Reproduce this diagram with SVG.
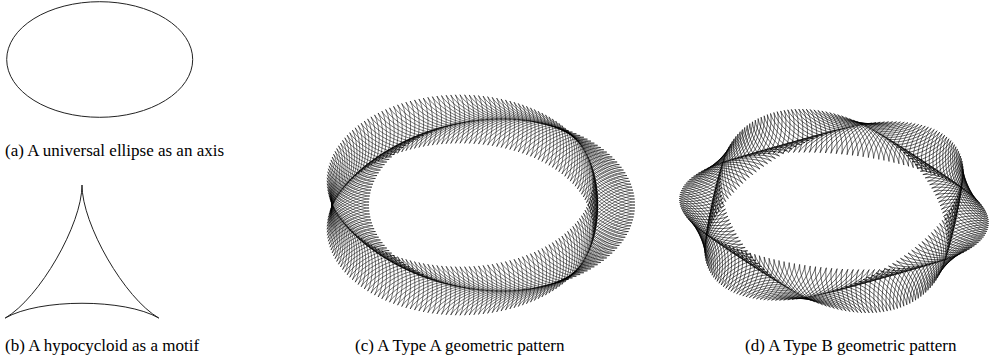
<svg xmlns="http://www.w3.org/2000/svg" width="994" height="363" viewBox="0 0 994 363">
<style>
.ln{fill:none;stroke:#222;stroke-width:1}
.mo{fill:none;stroke:#000;stroke-width:0.55}
.cap{font-family:"Liberation Serif","DejaVu Serif",serif;font-size:17px;fill:#000}
</style>
<defs>
<path id="dA" class="mo" d="M28,0 C15.556,0 -7.778,13.472 -14,24.249 C-7.778,13.472 -7.778,-13.472 -14,-24.249 C-7.778,-13.472 15.556,0 28,0Z"/>
<g id="mA" transform="scale(0.0075188,0.0116279)"><use href="#dA"/></g>
<path id="mB" class="mo" d="M25,0 C13.889,0 -6.944,12.028 -12.5,21.651 C-6.944,12.028 -6.944,-12.028 -12.5,-21.651 C-6.944,-12.028 13.889,0 25,0Z"/>
</defs>
<g id="axis-ellipse"><ellipse class="ln" cx="99.7" cy="59.5" rx="93" ry="57.8"/></g>
<g id="motif-hypocycloid"><path class="ln" d="M82,185 C82,224.42 39.32,298.34 5.18,318.05 C39.32,298.34 124.68,298.34 158.82,318.05 C124.68,298.34 82,224.42 82,185Z"/></g>
<g id="pattern-a" transform="translate(474,205) scale(133,86)">
<use href="#mA" transform="rotate(0)translate(1)rotate(0)"/>
<use href="#mA" transform="rotate(2)translate(1)rotate(-2)"/>
<use href="#mA" transform="rotate(4)translate(1)rotate(-4)"/>
<use href="#mA" transform="rotate(6)translate(1)rotate(-6)"/>
<use href="#mA" transform="rotate(8)translate(1)rotate(-8)"/>
<use href="#mA" transform="rotate(10)translate(1)rotate(-10)"/>
<use href="#mA" transform="rotate(12)translate(1)rotate(-12)"/>
<use href="#mA" transform="rotate(14)translate(1)rotate(-14)"/>
<use href="#mA" transform="rotate(16)translate(1)rotate(-16)"/>
<use href="#mA" transform="rotate(18)translate(1)rotate(-18)"/>
<use href="#mA" transform="rotate(20)translate(1)rotate(-20)"/>
<use href="#mA" transform="rotate(22)translate(1)rotate(-22)"/>
<use href="#mA" transform="rotate(24)translate(1)rotate(-24)"/>
<use href="#mA" transform="rotate(26)translate(1)rotate(-26)"/>
<use href="#mA" transform="rotate(28)translate(1)rotate(-28)"/>
<use href="#mA" transform="rotate(30)translate(1)rotate(-30)"/>
<use href="#mA" transform="rotate(32)translate(1)rotate(-32)"/>
<use href="#mA" transform="rotate(34)translate(1)rotate(-34)"/>
<use href="#mA" transform="rotate(36)translate(1)rotate(-36)"/>
<use href="#mA" transform="rotate(38)translate(1)rotate(-38)"/>
<use href="#mA" transform="rotate(40)translate(1)rotate(-40)"/>
<use href="#mA" transform="rotate(42)translate(1)rotate(-42)"/>
<use href="#mA" transform="rotate(44)translate(1)rotate(-44)"/>
<use href="#mA" transform="rotate(46)translate(1)rotate(-46)"/>
<use href="#mA" transform="rotate(48)translate(1)rotate(-48)"/>
<use href="#mA" transform="rotate(50)translate(1)rotate(-50)"/>
<use href="#mA" transform="rotate(52)translate(1)rotate(-52)"/>
<use href="#mA" transform="rotate(54)translate(1)rotate(-54)"/>
<use href="#mA" transform="rotate(56)translate(1)rotate(-56)"/>
<use href="#mA" transform="rotate(58)translate(1)rotate(-58)"/>
<use href="#mA" transform="rotate(60)translate(1)rotate(-60)"/>
<use href="#mA" transform="rotate(62)translate(1)rotate(-62)"/>
<use href="#mA" transform="rotate(64)translate(1)rotate(-64)"/>
<use href="#mA" transform="rotate(66)translate(1)rotate(-66)"/>
<use href="#mA" transform="rotate(68)translate(1)rotate(-68)"/>
<use href="#mA" transform="rotate(70)translate(1)rotate(-70)"/>
<use href="#mA" transform="rotate(72)translate(1)rotate(-72)"/>
<use href="#mA" transform="rotate(74)translate(1)rotate(-74)"/>
<use href="#mA" transform="rotate(76)translate(1)rotate(-76)"/>
<use href="#mA" transform="rotate(78)translate(1)rotate(-78)"/>
<use href="#mA" transform="rotate(80)translate(1)rotate(-80)"/>
<use href="#mA" transform="rotate(82)translate(1)rotate(-82)"/>
<use href="#mA" transform="rotate(84)translate(1)rotate(-84)"/>
<use href="#mA" transform="rotate(86)translate(1)rotate(-86)"/>
<use href="#mA" transform="rotate(88)translate(1)rotate(-88)"/>
<use href="#mA" transform="rotate(90)translate(1)rotate(-90)"/>
<use href="#mA" transform="rotate(92)translate(1)rotate(-92)"/>
<use href="#mA" transform="rotate(94)translate(1)rotate(-94)"/>
<use href="#mA" transform="rotate(96)translate(1)rotate(-96)"/>
<use href="#mA" transform="rotate(98)translate(1)rotate(-98)"/>
<use href="#mA" transform="rotate(100)translate(1)rotate(-100)"/>
<use href="#mA" transform="rotate(102)translate(1)rotate(-102)"/>
<use href="#mA" transform="rotate(104)translate(1)rotate(-104)"/>
<use href="#mA" transform="rotate(106)translate(1)rotate(-106)"/>
<use href="#mA" transform="rotate(108)translate(1)rotate(-108)"/>
<use href="#mA" transform="rotate(110)translate(1)rotate(-110)"/>
<use href="#mA" transform="rotate(112)translate(1)rotate(-112)"/>
<use href="#mA" transform="rotate(114)translate(1)rotate(-114)"/>
<use href="#mA" transform="rotate(116)translate(1)rotate(-116)"/>
<use href="#mA" transform="rotate(118)translate(1)rotate(-118)"/>
<use href="#mA" transform="rotate(120)translate(1)rotate(-120)"/>
<use href="#mA" transform="rotate(122)translate(1)rotate(-122)"/>
<use href="#mA" transform="rotate(124)translate(1)rotate(-124)"/>
<use href="#mA" transform="rotate(126)translate(1)rotate(-126)"/>
<use href="#mA" transform="rotate(128)translate(1)rotate(-128)"/>
<use href="#mA" transform="rotate(130)translate(1)rotate(-130)"/>
<use href="#mA" transform="rotate(132)translate(1)rotate(-132)"/>
<use href="#mA" transform="rotate(134)translate(1)rotate(-134)"/>
<use href="#mA" transform="rotate(136)translate(1)rotate(-136)"/>
<use href="#mA" transform="rotate(138)translate(1)rotate(-138)"/>
<use href="#mA" transform="rotate(140)translate(1)rotate(-140)"/>
<use href="#mA" transform="rotate(142)translate(1)rotate(-142)"/>
<use href="#mA" transform="rotate(144)translate(1)rotate(-144)"/>
<use href="#mA" transform="rotate(146)translate(1)rotate(-146)"/>
<use href="#mA" transform="rotate(148)translate(1)rotate(-148)"/>
<use href="#mA" transform="rotate(150)translate(1)rotate(-150)"/>
<use href="#mA" transform="rotate(152)translate(1)rotate(-152)"/>
<use href="#mA" transform="rotate(154)translate(1)rotate(-154)"/>
<use href="#mA" transform="rotate(156)translate(1)rotate(-156)"/>
<use href="#mA" transform="rotate(158)translate(1)rotate(-158)"/>
<use href="#mA" transform="rotate(160)translate(1)rotate(-160)"/>
<use href="#mA" transform="rotate(162)translate(1)rotate(-162)"/>
<use href="#mA" transform="rotate(164)translate(1)rotate(-164)"/>
<use href="#mA" transform="rotate(166)translate(1)rotate(-166)"/>
<use href="#mA" transform="rotate(168)translate(1)rotate(-168)"/>
<use href="#mA" transform="rotate(170)translate(1)rotate(-170)"/>
<use href="#mA" transform="rotate(172)translate(1)rotate(-172)"/>
<use href="#mA" transform="rotate(174)translate(1)rotate(-174)"/>
<use href="#mA" transform="rotate(176)translate(1)rotate(-176)"/>
<use href="#mA" transform="rotate(178)translate(1)rotate(-178)"/>
<use href="#mA" transform="rotate(180)translate(1)rotate(-180)"/>
<use href="#mA" transform="rotate(182)translate(1)rotate(-182)"/>
<use href="#mA" transform="rotate(184)translate(1)rotate(-184)"/>
<use href="#mA" transform="rotate(186)translate(1)rotate(-186)"/>
<use href="#mA" transform="rotate(188)translate(1)rotate(-188)"/>
<use href="#mA" transform="rotate(190)translate(1)rotate(-190)"/>
<use href="#mA" transform="rotate(192)translate(1)rotate(-192)"/>
<use href="#mA" transform="rotate(194)translate(1)rotate(-194)"/>
<use href="#mA" transform="rotate(196)translate(1)rotate(-196)"/>
<use href="#mA" transform="rotate(198)translate(1)rotate(-198)"/>
<use href="#mA" transform="rotate(200)translate(1)rotate(-200)"/>
<use href="#mA" transform="rotate(202)translate(1)rotate(-202)"/>
<use href="#mA" transform="rotate(204)translate(1)rotate(-204)"/>
<use href="#mA" transform="rotate(206)translate(1)rotate(-206)"/>
<use href="#mA" transform="rotate(208)translate(1)rotate(-208)"/>
<use href="#mA" transform="rotate(210)translate(1)rotate(-210)"/>
<use href="#mA" transform="rotate(212)translate(1)rotate(-212)"/>
<use href="#mA" transform="rotate(214)translate(1)rotate(-214)"/>
<use href="#mA" transform="rotate(216)translate(1)rotate(-216)"/>
<use href="#mA" transform="rotate(218)translate(1)rotate(-218)"/>
<use href="#mA" transform="rotate(220)translate(1)rotate(-220)"/>
<use href="#mA" transform="rotate(222)translate(1)rotate(-222)"/>
<use href="#mA" transform="rotate(224)translate(1)rotate(-224)"/>
<use href="#mA" transform="rotate(226)translate(1)rotate(-226)"/>
<use href="#mA" transform="rotate(228)translate(1)rotate(-228)"/>
<use href="#mA" transform="rotate(230)translate(1)rotate(-230)"/>
<use href="#mA" transform="rotate(232)translate(1)rotate(-232)"/>
<use href="#mA" transform="rotate(234)translate(1)rotate(-234)"/>
<use href="#mA" transform="rotate(236)translate(1)rotate(-236)"/>
<use href="#mA" transform="rotate(238)translate(1)rotate(-238)"/>
<use href="#mA" transform="rotate(240)translate(1)rotate(-240)"/>
<use href="#mA" transform="rotate(242)translate(1)rotate(-242)"/>
<use href="#mA" transform="rotate(244)translate(1)rotate(-244)"/>
<use href="#mA" transform="rotate(246)translate(1)rotate(-246)"/>
<use href="#mA" transform="rotate(248)translate(1)rotate(-248)"/>
<use href="#mA" transform="rotate(250)translate(1)rotate(-250)"/>
<use href="#mA" transform="rotate(252)translate(1)rotate(-252)"/>
<use href="#mA" transform="rotate(254)translate(1)rotate(-254)"/>
<use href="#mA" transform="rotate(256)translate(1)rotate(-256)"/>
<use href="#mA" transform="rotate(258)translate(1)rotate(-258)"/>
<use href="#mA" transform="rotate(260)translate(1)rotate(-260)"/>
<use href="#mA" transform="rotate(262)translate(1)rotate(-262)"/>
<use href="#mA" transform="rotate(264)translate(1)rotate(-264)"/>
<use href="#mA" transform="rotate(266)translate(1)rotate(-266)"/>
<use href="#mA" transform="rotate(268)translate(1)rotate(-268)"/>
<use href="#mA" transform="rotate(270)translate(1)rotate(-270)"/>
<use href="#mA" transform="rotate(272)translate(1)rotate(-272)"/>
<use href="#mA" transform="rotate(274)translate(1)rotate(-274)"/>
<use href="#mA" transform="rotate(276)translate(1)rotate(-276)"/>
<use href="#mA" transform="rotate(278)translate(1)rotate(-278)"/>
<use href="#mA" transform="rotate(280)translate(1)rotate(-280)"/>
<use href="#mA" transform="rotate(282)translate(1)rotate(-282)"/>
<use href="#mA" transform="rotate(284)translate(1)rotate(-284)"/>
<use href="#mA" transform="rotate(286)translate(1)rotate(-286)"/>
<use href="#mA" transform="rotate(288)translate(1)rotate(-288)"/>
<use href="#mA" transform="rotate(290)translate(1)rotate(-290)"/>
<use href="#mA" transform="rotate(292)translate(1)rotate(-292)"/>
<use href="#mA" transform="rotate(294)translate(1)rotate(-294)"/>
<use href="#mA" transform="rotate(296)translate(1)rotate(-296)"/>
<use href="#mA" transform="rotate(298)translate(1)rotate(-298)"/>
<use href="#mA" transform="rotate(300)translate(1)rotate(-300)"/>
<use href="#mA" transform="rotate(302)translate(1)rotate(-302)"/>
<use href="#mA" transform="rotate(304)translate(1)rotate(-304)"/>
<use href="#mA" transform="rotate(306)translate(1)rotate(-306)"/>
<use href="#mA" transform="rotate(308)translate(1)rotate(-308)"/>
<use href="#mA" transform="rotate(310)translate(1)rotate(-310)"/>
<use href="#mA" transform="rotate(312)translate(1)rotate(-312)"/>
<use href="#mA" transform="rotate(314)translate(1)rotate(-314)"/>
<use href="#mA" transform="rotate(316)translate(1)rotate(-316)"/>
<use href="#mA" transform="rotate(318)translate(1)rotate(-318)"/>
<use href="#mA" transform="rotate(320)translate(1)rotate(-320)"/>
<use href="#mA" transform="rotate(322)translate(1)rotate(-322)"/>
<use href="#mA" transform="rotate(324)translate(1)rotate(-324)"/>
<use href="#mA" transform="rotate(326)translate(1)rotate(-326)"/>
<use href="#mA" transform="rotate(328)translate(1)rotate(-328)"/>
<use href="#mA" transform="rotate(330)translate(1)rotate(-330)"/>
<use href="#mA" transform="rotate(332)translate(1)rotate(-332)"/>
<use href="#mA" transform="rotate(334)translate(1)rotate(-334)"/>
<use href="#mA" transform="rotate(336)translate(1)rotate(-336)"/>
<use href="#mA" transform="rotate(338)translate(1)rotate(-338)"/>
<use href="#mA" transform="rotate(340)translate(1)rotate(-340)"/>
<use href="#mA" transform="rotate(342)translate(1)rotate(-342)"/>
<use href="#mA" transform="rotate(344)translate(1)rotate(-344)"/>
<use href="#mA" transform="rotate(346)translate(1)rotate(-346)"/>
<use href="#mA" transform="rotate(348)translate(1)rotate(-348)"/>
<use href="#mA" transform="rotate(350)translate(1)rotate(-350)"/>
<use href="#mA" transform="rotate(352)translate(1)rotate(-352)"/>
<use href="#mA" transform="rotate(354)translate(1)rotate(-354)"/>
<use href="#mA" transform="rotate(356)translate(1)rotate(-356)"/>
<use href="#mA" transform="rotate(358)translate(1)rotate(-358)"/>
</g>
<g id="pattern-b" transform="translate(834,211) scale(131,81.5)">
<use href="#mB" transform="rotate(0)translate(1)rotate(0)scale(.0076336,.0122699)rotate(20)"/>
<use href="#mB" transform="rotate(2)translate(1)rotate(-2)scale(.0076336,.0122699)rotate(18)"/>
<use href="#mB" transform="rotate(4)translate(1)rotate(-4)scale(.0076336,.0122699)rotate(16)"/>
<use href="#mB" transform="rotate(6)translate(1)rotate(-6)scale(.0076336,.0122699)rotate(14)"/>
<use href="#mB" transform="rotate(8)translate(1)rotate(-8)scale(.0076336,.0122699)rotate(12)"/>
<use href="#mB" transform="rotate(10)translate(1)rotate(-10)scale(.0076336,.0122699)rotate(10)"/>
<use href="#mB" transform="rotate(12)translate(1)rotate(-12)scale(.0076336,.0122699)rotate(8)"/>
<use href="#mB" transform="rotate(14)translate(1)rotate(-14)scale(.0076336,.0122699)rotate(6)"/>
<use href="#mB" transform="rotate(16)translate(1)rotate(-16)scale(.0076336,.0122699)rotate(4)"/>
<use href="#mB" transform="rotate(18)translate(1)rotate(-18)scale(.0076336,.0122699)rotate(2)"/>
<use href="#mB" transform="rotate(20)translate(1)rotate(-20)scale(.0076336,.0122699)rotate(0)"/>
<use href="#mB" transform="rotate(22)translate(1)rotate(-22)scale(.0076336,.0122699)rotate(-2)"/>
<use href="#mB" transform="rotate(24)translate(1)rotate(-24)scale(.0076336,.0122699)rotate(-4)"/>
<use href="#mB" transform="rotate(26)translate(1)rotate(-26)scale(.0076336,.0122699)rotate(-6)"/>
<use href="#mB" transform="rotate(28)translate(1)rotate(-28)scale(.0076336,.0122699)rotate(-8)"/>
<use href="#mB" transform="rotate(30)translate(1)rotate(-30)scale(.0076336,.0122699)rotate(-10)"/>
<use href="#mB" transform="rotate(32)translate(1)rotate(-32)scale(.0076336,.0122699)rotate(-12)"/>
<use href="#mB" transform="rotate(34)translate(1)rotate(-34)scale(.0076336,.0122699)rotate(-14)"/>
<use href="#mB" transform="rotate(36)translate(1)rotate(-36)scale(.0076336,.0122699)rotate(-16)"/>
<use href="#mB" transform="rotate(38)translate(1)rotate(-38)scale(.0076336,.0122699)rotate(-18)"/>
<use href="#mB" transform="rotate(40)translate(1)rotate(-40)scale(.0076336,.0122699)rotate(-20)"/>
<use href="#mB" transform="rotate(42)translate(1)rotate(-42)scale(.0076336,.0122699)rotate(-22)"/>
<use href="#mB" transform="rotate(44)translate(1)rotate(-44)scale(.0076336,.0122699)rotate(-24)"/>
<use href="#mB" transform="rotate(46)translate(1)rotate(-46)scale(.0076336,.0122699)rotate(-26)"/>
<use href="#mB" transform="rotate(48)translate(1)rotate(-48)scale(.0076336,.0122699)rotate(-28)"/>
<use href="#mB" transform="rotate(50)translate(1)rotate(-50)scale(.0076336,.0122699)rotate(-30)"/>
<use href="#mB" transform="rotate(52)translate(1)rotate(-52)scale(.0076336,.0122699)rotate(-32)"/>
<use href="#mB" transform="rotate(54)translate(1)rotate(-54)scale(.0076336,.0122699)rotate(-34)"/>
<use href="#mB" transform="rotate(56)translate(1)rotate(-56)scale(.0076336,.0122699)rotate(-36)"/>
<use href="#mB" transform="rotate(58)translate(1)rotate(-58)scale(.0076336,.0122699)rotate(-38)"/>
<use href="#mB" transform="rotate(60)translate(1)rotate(-60)scale(.0076336,.0122699)rotate(-40)"/>
<use href="#mB" transform="rotate(62)translate(1)rotate(-62)scale(.0076336,.0122699)rotate(-42)"/>
<use href="#mB" transform="rotate(64)translate(1)rotate(-64)scale(.0076336,.0122699)rotate(-44)"/>
<use href="#mB" transform="rotate(66)translate(1)rotate(-66)scale(.0076336,.0122699)rotate(-46)"/>
<use href="#mB" transform="rotate(68)translate(1)rotate(-68)scale(.0076336,.0122699)rotate(-48)"/>
<use href="#mB" transform="rotate(70)translate(1)rotate(-70)scale(.0076336,.0122699)rotate(-50)"/>
<use href="#mB" transform="rotate(72)translate(1)rotate(-72)scale(.0076336,.0122699)rotate(-52)"/>
<use href="#mB" transform="rotate(74)translate(1)rotate(-74)scale(.0076336,.0122699)rotate(-54)"/>
<use href="#mB" transform="rotate(76)translate(1)rotate(-76)scale(.0076336,.0122699)rotate(-56)"/>
<use href="#mB" transform="rotate(78)translate(1)rotate(-78)scale(.0076336,.0122699)rotate(-58)"/>
<use href="#mB" transform="rotate(80)translate(1)rotate(-80)scale(.0076336,.0122699)rotate(-60)"/>
<use href="#mB" transform="rotate(82)translate(1)rotate(-82)scale(.0076336,.0122699)rotate(-62)"/>
<use href="#mB" transform="rotate(84)translate(1)rotate(-84)scale(.0076336,.0122699)rotate(-64)"/>
<use href="#mB" transform="rotate(86)translate(1)rotate(-86)scale(.0076336,.0122699)rotate(-66)"/>
<use href="#mB" transform="rotate(88)translate(1)rotate(-88)scale(.0076336,.0122699)rotate(-68)"/>
<use href="#mB" transform="rotate(90)translate(1)rotate(-90)scale(.0076336,.0122699)rotate(-70)"/>
<use href="#mB" transform="rotate(92)translate(1)rotate(-92)scale(.0076336,.0122699)rotate(-72)"/>
<use href="#mB" transform="rotate(94)translate(1)rotate(-94)scale(.0076336,.0122699)rotate(-74)"/>
<use href="#mB" transform="rotate(96)translate(1)rotate(-96)scale(.0076336,.0122699)rotate(-76)"/>
<use href="#mB" transform="rotate(98)translate(1)rotate(-98)scale(.0076336,.0122699)rotate(-78)"/>
<use href="#mB" transform="rotate(100)translate(1)rotate(-100)scale(.0076336,.0122699)rotate(-80)"/>
<use href="#mB" transform="rotate(102)translate(1)rotate(-102)scale(.0076336,.0122699)rotate(-82)"/>
<use href="#mB" transform="rotate(104)translate(1)rotate(-104)scale(.0076336,.0122699)rotate(-84)"/>
<use href="#mB" transform="rotate(106)translate(1)rotate(-106)scale(.0076336,.0122699)rotate(-86)"/>
<use href="#mB" transform="rotate(108)translate(1)rotate(-108)scale(.0076336,.0122699)rotate(-88)"/>
<use href="#mB" transform="rotate(110)translate(1)rotate(-110)scale(.0076336,.0122699)rotate(-90)"/>
<use href="#mB" transform="rotate(112)translate(1)rotate(-112)scale(.0076336,.0122699)rotate(-92)"/>
<use href="#mB" transform="rotate(114)translate(1)rotate(-114)scale(.0076336,.0122699)rotate(-94)"/>
<use href="#mB" transform="rotate(116)translate(1)rotate(-116)scale(.0076336,.0122699)rotate(-96)"/>
<use href="#mB" transform="rotate(118)translate(1)rotate(-118)scale(.0076336,.0122699)rotate(-98)"/>
<use href="#mB" transform="rotate(120)translate(1)rotate(-120)scale(.0076336,.0122699)rotate(-100)"/>
<use href="#mB" transform="rotate(122)translate(1)rotate(-122)scale(.0076336,.0122699)rotate(-102)"/>
<use href="#mB" transform="rotate(124)translate(1)rotate(-124)scale(.0076336,.0122699)rotate(-104)"/>
<use href="#mB" transform="rotate(126)translate(1)rotate(-126)scale(.0076336,.0122699)rotate(-106)"/>
<use href="#mB" transform="rotate(128)translate(1)rotate(-128)scale(.0076336,.0122699)rotate(-108)"/>
<use href="#mB" transform="rotate(130)translate(1)rotate(-130)scale(.0076336,.0122699)rotate(-110)"/>
<use href="#mB" transform="rotate(132)translate(1)rotate(-132)scale(.0076336,.0122699)rotate(-112)"/>
<use href="#mB" transform="rotate(134)translate(1)rotate(-134)scale(.0076336,.0122699)rotate(-114)"/>
<use href="#mB" transform="rotate(136)translate(1)rotate(-136)scale(.0076336,.0122699)rotate(-116)"/>
<use href="#mB" transform="rotate(138)translate(1)rotate(-138)scale(.0076336,.0122699)rotate(-118)"/>
<use href="#mB" transform="rotate(140)translate(1)rotate(-140)scale(.0076336,.0122699)rotate(-120)"/>
<use href="#mB" transform="rotate(142)translate(1)rotate(-142)scale(.0076336,.0122699)rotate(-122)"/>
<use href="#mB" transform="rotate(144)translate(1)rotate(-144)scale(.0076336,.0122699)rotate(-124)"/>
<use href="#mB" transform="rotate(146)translate(1)rotate(-146)scale(.0076336,.0122699)rotate(-126)"/>
<use href="#mB" transform="rotate(148)translate(1)rotate(-148)scale(.0076336,.0122699)rotate(-128)"/>
<use href="#mB" transform="rotate(150)translate(1)rotate(-150)scale(.0076336,.0122699)rotate(-130)"/>
<use href="#mB" transform="rotate(152)translate(1)rotate(-152)scale(.0076336,.0122699)rotate(-132)"/>
<use href="#mB" transform="rotate(154)translate(1)rotate(-154)scale(.0076336,.0122699)rotate(-134)"/>
<use href="#mB" transform="rotate(156)translate(1)rotate(-156)scale(.0076336,.0122699)rotate(-136)"/>
<use href="#mB" transform="rotate(158)translate(1)rotate(-158)scale(.0076336,.0122699)rotate(-138)"/>
<use href="#mB" transform="rotate(160)translate(1)rotate(-160)scale(.0076336,.0122699)rotate(-140)"/>
<use href="#mB" transform="rotate(162)translate(1)rotate(-162)scale(.0076336,.0122699)rotate(-142)"/>
<use href="#mB" transform="rotate(164)translate(1)rotate(-164)scale(.0076336,.0122699)rotate(-144)"/>
<use href="#mB" transform="rotate(166)translate(1)rotate(-166)scale(.0076336,.0122699)rotate(-146)"/>
<use href="#mB" transform="rotate(168)translate(1)rotate(-168)scale(.0076336,.0122699)rotate(-148)"/>
<use href="#mB" transform="rotate(170)translate(1)rotate(-170)scale(.0076336,.0122699)rotate(-150)"/>
<use href="#mB" transform="rotate(172)translate(1)rotate(-172)scale(.0076336,.0122699)rotate(-152)"/>
<use href="#mB" transform="rotate(174)translate(1)rotate(-174)scale(.0076336,.0122699)rotate(-154)"/>
<use href="#mB" transform="rotate(176)translate(1)rotate(-176)scale(.0076336,.0122699)rotate(-156)"/>
<use href="#mB" transform="rotate(178)translate(1)rotate(-178)scale(.0076336,.0122699)rotate(-158)"/>
<use href="#mB" transform="rotate(180)translate(1)rotate(-180)scale(.0076336,.0122699)rotate(-160)"/>
<use href="#mB" transform="rotate(182)translate(1)rotate(-182)scale(.0076336,.0122699)rotate(-162)"/>
<use href="#mB" transform="rotate(184)translate(1)rotate(-184)scale(.0076336,.0122699)rotate(-164)"/>
<use href="#mB" transform="rotate(186)translate(1)rotate(-186)scale(.0076336,.0122699)rotate(-166)"/>
<use href="#mB" transform="rotate(188)translate(1)rotate(-188)scale(.0076336,.0122699)rotate(-168)"/>
<use href="#mB" transform="rotate(190)translate(1)rotate(-190)scale(.0076336,.0122699)rotate(-170)"/>
<use href="#mB" transform="rotate(192)translate(1)rotate(-192)scale(.0076336,.0122699)rotate(-172)"/>
<use href="#mB" transform="rotate(194)translate(1)rotate(-194)scale(.0076336,.0122699)rotate(-174)"/>
<use href="#mB" transform="rotate(196)translate(1)rotate(-196)scale(.0076336,.0122699)rotate(-176)"/>
<use href="#mB" transform="rotate(198)translate(1)rotate(-198)scale(.0076336,.0122699)rotate(-178)"/>
<use href="#mB" transform="rotate(200)translate(1)rotate(-200)scale(.0076336,.0122699)rotate(-180)"/>
<use href="#mB" transform="rotate(202)translate(1)rotate(-202)scale(.0076336,.0122699)rotate(-182)"/>
<use href="#mB" transform="rotate(204)translate(1)rotate(-204)scale(.0076336,.0122699)rotate(-184)"/>
<use href="#mB" transform="rotate(206)translate(1)rotate(-206)scale(.0076336,.0122699)rotate(-186)"/>
<use href="#mB" transform="rotate(208)translate(1)rotate(-208)scale(.0076336,.0122699)rotate(-188)"/>
<use href="#mB" transform="rotate(210)translate(1)rotate(-210)scale(.0076336,.0122699)rotate(-190)"/>
<use href="#mB" transform="rotate(212)translate(1)rotate(-212)scale(.0076336,.0122699)rotate(-192)"/>
<use href="#mB" transform="rotate(214)translate(1)rotate(-214)scale(.0076336,.0122699)rotate(-194)"/>
<use href="#mB" transform="rotate(216)translate(1)rotate(-216)scale(.0076336,.0122699)rotate(-196)"/>
<use href="#mB" transform="rotate(218)translate(1)rotate(-218)scale(.0076336,.0122699)rotate(-198)"/>
<use href="#mB" transform="rotate(220)translate(1)rotate(-220)scale(.0076336,.0122699)rotate(-200)"/>
<use href="#mB" transform="rotate(222)translate(1)rotate(-222)scale(.0076336,.0122699)rotate(-202)"/>
<use href="#mB" transform="rotate(224)translate(1)rotate(-224)scale(.0076336,.0122699)rotate(-204)"/>
<use href="#mB" transform="rotate(226)translate(1)rotate(-226)scale(.0076336,.0122699)rotate(-206)"/>
<use href="#mB" transform="rotate(228)translate(1)rotate(-228)scale(.0076336,.0122699)rotate(-208)"/>
<use href="#mB" transform="rotate(230)translate(1)rotate(-230)scale(.0076336,.0122699)rotate(-210)"/>
<use href="#mB" transform="rotate(232)translate(1)rotate(-232)scale(.0076336,.0122699)rotate(-212)"/>
<use href="#mB" transform="rotate(234)translate(1)rotate(-234)scale(.0076336,.0122699)rotate(-214)"/>
<use href="#mB" transform="rotate(236)translate(1)rotate(-236)scale(.0076336,.0122699)rotate(-216)"/>
<use href="#mB" transform="rotate(238)translate(1)rotate(-238)scale(.0076336,.0122699)rotate(-218)"/>
<use href="#mB" transform="rotate(240)translate(1)rotate(-240)scale(.0076336,.0122699)rotate(-220)"/>
<use href="#mB" transform="rotate(242)translate(1)rotate(-242)scale(.0076336,.0122699)rotate(-222)"/>
<use href="#mB" transform="rotate(244)translate(1)rotate(-244)scale(.0076336,.0122699)rotate(-224)"/>
<use href="#mB" transform="rotate(246)translate(1)rotate(-246)scale(.0076336,.0122699)rotate(-226)"/>
<use href="#mB" transform="rotate(248)translate(1)rotate(-248)scale(.0076336,.0122699)rotate(-228)"/>
<use href="#mB" transform="rotate(250)translate(1)rotate(-250)scale(.0076336,.0122699)rotate(-230)"/>
<use href="#mB" transform="rotate(252)translate(1)rotate(-252)scale(.0076336,.0122699)rotate(-232)"/>
<use href="#mB" transform="rotate(254)translate(1)rotate(-254)scale(.0076336,.0122699)rotate(-234)"/>
<use href="#mB" transform="rotate(256)translate(1)rotate(-256)scale(.0076336,.0122699)rotate(-236)"/>
<use href="#mB" transform="rotate(258)translate(1)rotate(-258)scale(.0076336,.0122699)rotate(-238)"/>
<use href="#mB" transform="rotate(260)translate(1)rotate(-260)scale(.0076336,.0122699)rotate(-240)"/>
<use href="#mB" transform="rotate(262)translate(1)rotate(-262)scale(.0076336,.0122699)rotate(-242)"/>
<use href="#mB" transform="rotate(264)translate(1)rotate(-264)scale(.0076336,.0122699)rotate(-244)"/>
<use href="#mB" transform="rotate(266)translate(1)rotate(-266)scale(.0076336,.0122699)rotate(-246)"/>
<use href="#mB" transform="rotate(268)translate(1)rotate(-268)scale(.0076336,.0122699)rotate(-248)"/>
<use href="#mB" transform="rotate(270)translate(1)rotate(-270)scale(.0076336,.0122699)rotate(-250)"/>
<use href="#mB" transform="rotate(272)translate(1)rotate(-272)scale(.0076336,.0122699)rotate(-252)"/>
<use href="#mB" transform="rotate(274)translate(1)rotate(-274)scale(.0076336,.0122699)rotate(-254)"/>
<use href="#mB" transform="rotate(276)translate(1)rotate(-276)scale(.0076336,.0122699)rotate(-256)"/>
<use href="#mB" transform="rotate(278)translate(1)rotate(-278)scale(.0076336,.0122699)rotate(-258)"/>
<use href="#mB" transform="rotate(280)translate(1)rotate(-280)scale(.0076336,.0122699)rotate(-260)"/>
<use href="#mB" transform="rotate(282)translate(1)rotate(-282)scale(.0076336,.0122699)rotate(-262)"/>
<use href="#mB" transform="rotate(284)translate(1)rotate(-284)scale(.0076336,.0122699)rotate(-264)"/>
<use href="#mB" transform="rotate(286)translate(1)rotate(-286)scale(.0076336,.0122699)rotate(-266)"/>
<use href="#mB" transform="rotate(288)translate(1)rotate(-288)scale(.0076336,.0122699)rotate(-268)"/>
<use href="#mB" transform="rotate(290)translate(1)rotate(-290)scale(.0076336,.0122699)rotate(-270)"/>
<use href="#mB" transform="rotate(292)translate(1)rotate(-292)scale(.0076336,.0122699)rotate(-272)"/>
<use href="#mB" transform="rotate(294)translate(1)rotate(-294)scale(.0076336,.0122699)rotate(-274)"/>
<use href="#mB" transform="rotate(296)translate(1)rotate(-296)scale(.0076336,.0122699)rotate(-276)"/>
<use href="#mB" transform="rotate(298)translate(1)rotate(-298)scale(.0076336,.0122699)rotate(-278)"/>
<use href="#mB" transform="rotate(300)translate(1)rotate(-300)scale(.0076336,.0122699)rotate(-280)"/>
<use href="#mB" transform="rotate(302)translate(1)rotate(-302)scale(.0076336,.0122699)rotate(-282)"/>
<use href="#mB" transform="rotate(304)translate(1)rotate(-304)scale(.0076336,.0122699)rotate(-284)"/>
<use href="#mB" transform="rotate(306)translate(1)rotate(-306)scale(.0076336,.0122699)rotate(-286)"/>
<use href="#mB" transform="rotate(308)translate(1)rotate(-308)scale(.0076336,.0122699)rotate(-288)"/>
<use href="#mB" transform="rotate(310)translate(1)rotate(-310)scale(.0076336,.0122699)rotate(-290)"/>
<use href="#mB" transform="rotate(312)translate(1)rotate(-312)scale(.0076336,.0122699)rotate(-292)"/>
<use href="#mB" transform="rotate(314)translate(1)rotate(-314)scale(.0076336,.0122699)rotate(-294)"/>
<use href="#mB" transform="rotate(316)translate(1)rotate(-316)scale(.0076336,.0122699)rotate(-296)"/>
<use href="#mB" transform="rotate(318)translate(1)rotate(-318)scale(.0076336,.0122699)rotate(-298)"/>
<use href="#mB" transform="rotate(320)translate(1)rotate(-320)scale(.0076336,.0122699)rotate(-300)"/>
<use href="#mB" transform="rotate(322)translate(1)rotate(-322)scale(.0076336,.0122699)rotate(-302)"/>
<use href="#mB" transform="rotate(324)translate(1)rotate(-324)scale(.0076336,.0122699)rotate(-304)"/>
<use href="#mB" transform="rotate(326)translate(1)rotate(-326)scale(.0076336,.0122699)rotate(-306)"/>
<use href="#mB" transform="rotate(328)translate(1)rotate(-328)scale(.0076336,.0122699)rotate(-308)"/>
<use href="#mB" transform="rotate(330)translate(1)rotate(-330)scale(.0076336,.0122699)rotate(-310)"/>
<use href="#mB" transform="rotate(332)translate(1)rotate(-332)scale(.0076336,.0122699)rotate(-312)"/>
<use href="#mB" transform="rotate(334)translate(1)rotate(-334)scale(.0076336,.0122699)rotate(-314)"/>
<use href="#mB" transform="rotate(336)translate(1)rotate(-336)scale(.0076336,.0122699)rotate(-316)"/>
<use href="#mB" transform="rotate(338)translate(1)rotate(-338)scale(.0076336,.0122699)rotate(-318)"/>
<use href="#mB" transform="rotate(340)translate(1)rotate(-340)scale(.0076336,.0122699)rotate(-320)"/>
<use href="#mB" transform="rotate(342)translate(1)rotate(-342)scale(.0076336,.0122699)rotate(-322)"/>
<use href="#mB" transform="rotate(344)translate(1)rotate(-344)scale(.0076336,.0122699)rotate(-324)"/>
<use href="#mB" transform="rotate(346)translate(1)rotate(-346)scale(.0076336,.0122699)rotate(-326)"/>
<use href="#mB" transform="rotate(348)translate(1)rotate(-348)scale(.0076336,.0122699)rotate(-328)"/>
<use href="#mB" transform="rotate(350)translate(1)rotate(-350)scale(.0076336,.0122699)rotate(-330)"/>
<use href="#mB" transform="rotate(352)translate(1)rotate(-352)scale(.0076336,.0122699)rotate(-332)"/>
<use href="#mB" transform="rotate(354)translate(1)rotate(-354)scale(.0076336,.0122699)rotate(-334)"/>
<use href="#mB" transform="rotate(356)translate(1)rotate(-356)scale(.0076336,.0122699)rotate(-336)"/>
<use href="#mB" transform="rotate(358)translate(1)rotate(-358)scale(.0076336,.0122699)rotate(-338)"/>
</g>
<g id="captions" font-family="'Liberation Serif','DejaVu Serif',serif">
<text class="cap" x="5" y="156">(a) A universal ellipse as an axis</text>
<text class="cap" x="5" y="351">(b) A hypocycloid as a motif</text>
<text class="cap" x="355" y="351">(c) A Type A geometric pattern</text>
<text class="cap" x="745" y="351">(d) A Type B geometric pattern</text>
</g>
</svg>
